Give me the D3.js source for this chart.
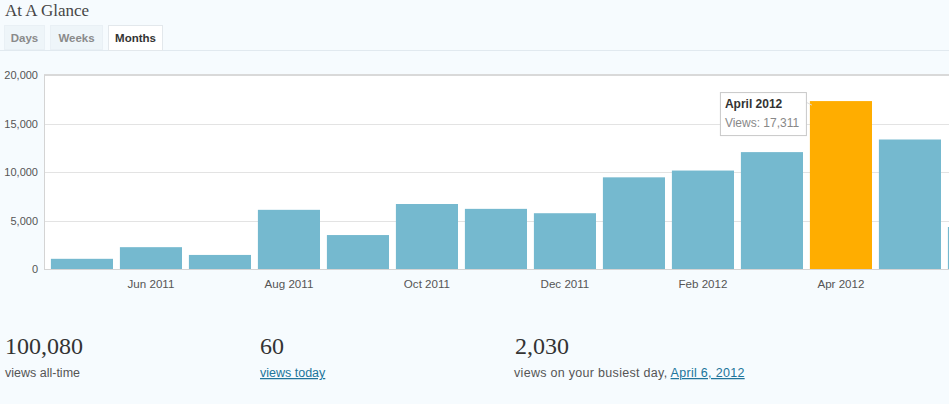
<!DOCTYPE html>
<html>
<head>
<meta charset="utf-8">
<script src="https://cdn.jsdelivr.net/npm/d3@7"></script>
<style>
  body { margin: 0; background: #f6fbfe; overflow: hidden; }
  svg { display: block; }
  .ylab { font: 11px Arial, "Liberation Sans", sans-serif; fill: #555; }
  .xlab { font: 11.6px Arial, "Liberation Sans", sans-serif; fill: #555; }
  .serif { font-family: Georgia, "Liberation Serif", serif; fill: #333; }
  .small { font: 12.5px Arial, "Liberation Sans", sans-serif; fill: #555; }
  .link { fill: #21759b; text-decoration: underline; }
</style>
</head>
<body>
<div class="chart"></div>
<script>
// Data
var MONTHS = ['May 2011', 'Jun 2011', 'Jul 2011', 'Aug 2011', 'Sep 2011', 'Oct 2011', 'Nov 2011',
              'Dec 2011', 'Jan 2012', 'Feb 2012', 'Mar 2012', 'Apr 2012', 'May 2012', 'Jun 2012'];
var VIEWS = [1050, 2250, 1450, 6100, 3500, 6700, 6200, 5750, 9450, 10150, 12050, 17311, 13350, 4330];
var Y_TICKS = [0, 5000, 10000, 15000, 20000];
var X_TICKS = ['Jun 2011', 'Aug 2011', 'Oct 2011', 'Dec 2011', 'Feb 2012', 'Apr 2012'];
var TABS = ['Days', 'Weeks', 'Months'];
var HIGHLIGHT = 'Apr 2012';

var width = 949, height = 404;
var plot = {left: 44, top: 75, bottom: 269, right: 949};

var svg = d3.select('.chart').append('svg')
    .attr('width', width)
    .attr('height', height);

// Title
svg.append('text')
    .attr('class', 'serif')
    .attr('x', 5).attr('y', 16)
    .style('font-size', '17px')
    .style('fill', '#464646')
    .text('At A Glance');

// Tabs
var tabX = [4, 50, 108], tabW = [40, 52, 54];
svg.append('line')
    .attr('x1', 0).attr('x2', width)
    .attr('y1', 50.5).attr('y2', 50.5)
    .attr('stroke', '#e1e9ef');
TABS.forEach(function(t, i) {
  var active = (t == 'Months');
  svg.append('rect')
      .attr('x', tabX[i] + 0.5).attr('y', 25.5)
      .attr('width', tabW[i]).attr('height', active ? 25 : 24)
      .attr('fill', active ? '#fff' : '#eef5f9')
      .attr('stroke', active ? '#e3e8ec' : '#e9f0f5');
  svg.append('text')
      .attr('x', tabX[i] + tabW[i] / 2 + 0.5).attr('y', 42)
      .attr('text-anchor', 'middle')
      .style('font', 'bold 11.5px Arial, "Liberation Sans", sans-serif')
      .style('fill', active ? '#333' : '#8a8a8a')
      .text(t);
});

// Scales
var xScale = d3.scaleBand()
    .domain(MONTHS)
    .range([plot.left, plot.left + 69 * 14.1])
    .paddingInner(0.1)
    .paddingOuter(0.1);

var yScale = d3.scaleLinear()
    .domain([0, 20000])
    .range([plot.bottom, plot.top]);

// Plot background
svg.append('rect')
    .attr('x', plot.left).attr('y', plot.top)
    .attr('width', plot.right - plot.left).attr('height', plot.bottom - plot.top)
    .attr('fill', '#fff');

// Grid lines
svg.selectAll('.grid')
    .data(Y_TICKS.slice(1, 4))
    .enter().append('line')
    .attr('x1', plot.left).attr('x2', plot.right)
    .attr('y1', function(d) { return Math.round(yScale(d)) + 0.5; })
    .attr('y2', function(d) { return Math.round(yScale(d)) + 0.5; })
    .attr('stroke', '#e3e3e3');

// Frame
svg.append('line')
    .attr('x1', plot.left).attr('x2', plot.right)
    .attr('y1', plot.top).attr('y2', plot.top)
    .attr('stroke', '#d9d9d9').attr('stroke-width', 2);
svg.append('line')
    .attr('x1', plot.left + 0.5).attr('x2', plot.left + 0.5)
    .attr('y1', plot.top).attr('y2', plot.bottom)
    .attr('stroke', '#d4d4d4');

// Bars
svg.selectAll('.bar')
    .data(VIEWS)
    .enter().append('rect')
    .attr('class', 'bar')
    .attr('x', function(d, i) { return xScale(MONTHS[i]); })
    .attr('width', xScale.bandwidth())
    .attr('y', function(d) { return yScale(d); })
    .attr('height', function(d) { return plot.bottom - yScale(d); })
    .attr('fill', function(d, i) { return MONTHS[i] == HIGHLIGHT ? '#ffad00' : '#75b9cf'; });

// Baseline
svg.append('line')
    .attr('x1', plot.left).attr('x2', plot.right)
    .attr('y1', plot.bottom + 0.5).attr('y2', plot.bottom + 0.5)
    .attr('stroke', '#d4d4d4');

// Y labels
svg.selectAll('.ylab')
    .data(Y_TICKS)
    .enter().append('text')
    .attr('class', 'ylab')
    .attr('x', 38)
    .attr('y', function(d) { return yScale(d) + 4; })
    .attr('text-anchor', 'end')
    .text(function(d) { return d3.format(',')(d); });

// X labels
svg.selectAll('.xlab')
    .data(X_TICKS)
    .enter().append('text')
    .attr('class', 'xlab')
    .attr('x', function(d) { return xScale(d) + xScale.bandwidth() / 2; })
    .attr('y', 288)
    .attr('text-anchor', 'middle')
    .text(function(d) { return d; });

// Tooltip for the highlighted month
var hv = VIEWS[MONTHS.indexOf(HIGHLIGHT)];
var tipX = xScale(HIGHLIGHT) - 90, tipY = yScale(hv) - 9;
svg.append('line')
    .attr('x1', tipX + 86).attr('y1', tipY + 10)
    .attr('x2', xScale(HIGHLIGHT) + 2).attr('y2', yScale(hv) + 4)
    .attr('stroke', '#ddd');
var tip = svg.append('g').attr('transform', 'translate(' + tipX + ',' + tipY + ')');
tip.append('rect')
    .attr('x', 0.5).attr('y', 0.5)
    .attr('width', 86).attr('height', 43)
    .attr('fill', '#fff')
    .attr('stroke', '#c8c8c8');
tip.append('text')
    .attr('x', 5).attr('y', 16)
    .style('font', 'bold 12px Arial, "Liberation Sans", sans-serif')
    .style('fill', '#333')
    .text('April 2012');
tip.append('text')
    .attr('x', 5).attr('y', 35)
    .style('font', '12px Arial, "Liberation Sans", sans-serif')
    .style('fill', '#888')
    .text('Views: ' + d3.format(',')(hv));

// Stats
var STAT_X = [5, 260, 515];
var STAT_NUM = ['100,080', '60', '2,030'];
STAT_NUM.forEach(function(s, i) {
  svg.append('text')
      .attr('class', 'serif')
      .attr('x', STAT_X[i]).attr('y', 354)
      .style('font-size', '24px')
      .text(s);
});
svg.append('text').attr('class', 'small').attr('x', 5).attr('y', 377).text('views all-time');
svg.append('text').attr('class', 'small link').attr('x', 260).attr('y', 377).text('views today');
var busy = svg.append('text').attr('class', 'small').attr('x', 514).attr('y', 377)
    .style('letter-spacing', '0.3px');
busy.append('tspan').text('views on your busiest day, ');
busy.append('tspan').attr('class', 'link').text('April 6, 2012');
</script>
</body>
</html>
